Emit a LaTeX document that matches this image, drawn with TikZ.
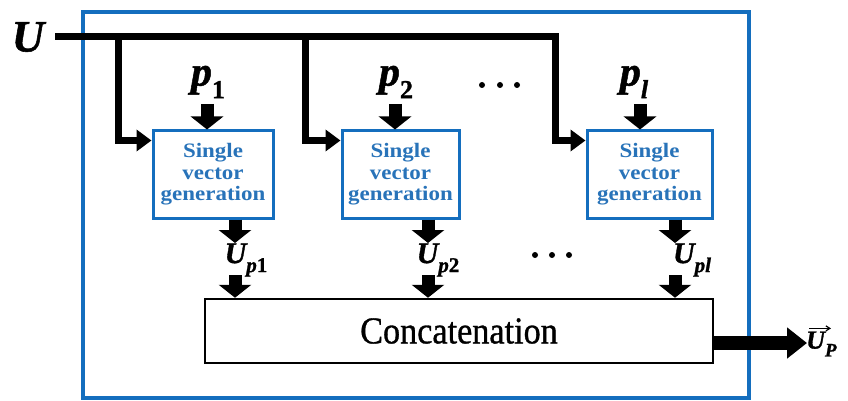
\documentclass[tikz,border=0pt]{standalone}
\usepackage{amsmath}
\usepackage{fontspec}
\usetikzlibrary{arrows.meta,calc}
\definecolor{frameblue}{RGB}{20,110,190}
\definecolor{textblue}{RGB}{40,115,185}
\newfontfamily\boxfont[FakeStretch=1.12]{Liberation Serif}
\newfontfamily\concatfont[FakeStretch=0.9,FakeBold=0.8]{Liberation Serif}
\newfontfamily\lblfont[FakeBold=1.2]{Liberation Serif}
\newcommand{\lbl}[1]{{\lblfont\bfseries\itshape #1}}
\newcommand{\lbup}[1]{{\lblfont\bfseries #1}}
\newcommand{\lblsub}[3]{\lbl{#1}\raisebox{-0.3em}{\fontsize{#3}{#3}\selectfont #2}}
\tikzset{
  bus/.style={line width=7pt, line join=miter, -{Triangle[width=21pt,length=15pt]}},
  blk/.style={line width=13pt, -{Triangle[width=32pt,length=13pt]}},
  outarrow/.style={line width=14pt, -{Triangle[width=30pt,length=20pt]}},
  genbox/.style={draw=frameblue, line width=3pt, minimum height=87pt, inner sep=0pt,
     align=center, text=textblue, font=\boxfont\bfseries\fontsize{20.5}{21.5}\selectfont},
  biglabel/.style={inner sep=0pt, font=\fontsize{45}{45}\selectfont},
  plabel/.style={inner sep=0pt, font=\fontsize{42}{42}\selectfont},
  uplabel/.style={inner sep=0pt, font=\fontsize{30}{30}\selectfont},
  dot/.style={circle, fill=black, inner sep=0pt, minimum size=6pt}
}
\begin{document}
\begin{tikzpicture}[x=1pt,y=-1pt]
\useasboundingbox (0,0) rectangle (848,401);
% outer frame
\draw[frameblue, line width=4pt] (83,12) rectangle (749,398);

% input label
\node[biglabel] (U) at (28,37) {\lbl{U}};
\coordinate (ustart) at (55,37);
\coordinate (j1) at (118,37);
\coordinate (j2) at (305,37);
\coordinate (j3) at (555,37);

% generation boxes
\node[genbox, minimum width=120pt] (b1) at (213,174.5) {Single\\vector\\generation};
\node[genbox, minimum width=117pt] (b2) at (400.5,174.5) {Single\\vector\\generation};
\node[genbox, minimum width=125pt] (b3) at (649.5,174.5) {Single\\vector\\generation};

% concatenation box
\node[draw, line width=2.5pt, minimum width=508pt, minimum height=64pt, inner sep=0pt,
      font=\concatfont\fontsize{38}{38}\selectfont] (cc) at (459,331) {Concatenation};

% bus lines
\draw[bus] (ustart) -- (j3) |- ($(b3.north west)+(0,11)$);
\draw[bus] (j1) |- ($(b1.north west)+(0,11)$);
\draw[bus] (j2) |- ($(b2.north west)+(0,11)$);

% parameter labels and arrows
\node[plabel] (p1) at (208,82) {\lblsub{p}{\lbup{1}}{26}};
\node[plabel] (p2) at (396,82) {\lblsub{p}{\lbup{2}}{26}};
\node[plabel] (pl) at (634,82) {\lblsub{p}{\lbl{l}}{26}};
\coordinate (a1) at (207,104);
\coordinate (a2) at (395,104);
\coordinate (a3) at (640,104);
\draw[blk] (a1) -- (a1 |- b1.north);
\draw[blk] (a2) -- (a2 |- b2.north);
\draw[blk] (a3) -- (a3 |- b3.north);

% dots
\node[dot] (t1) at (482,85) {};
\node[dot] (t2) at (500,85) {};
\node[dot] (t3) at (517,85) {};
\node[dot] (s1) at (535,255) {};
\node[dot] (s2) at (552,255) {};
\node[dot] (s3) at (569,255) {};

% outputs of generation boxes
\coordinate (d1) at (235,243);
\coordinate (d2) at (428,243);
\coordinate (d3) at (675,243);
\draw[blk] (b1.south -| d1) -- (d1);
\draw[blk] (b2.south -| d2) -- (d2);
\draw[blk] (b3.south -| d3) -- (d3);
\node[uplabel] (u1) at (246,260) {\lblsub{U}{\lbl{p}\lbup{1}}{21}};
\node[uplabel] (u2) at (438,260) {\lblsub{U}{\lbl{p}\lbup{2}}{21}};
\node[uplabel] (u3) at (692,260) {\lblsub{U}{\lbl{pl}}{21}};
\coordinate (e1) at (235,275);
\coordinate (e2) at (428,275);
\coordinate (e3) at (675,275);
\draw[blk] (e1) -- (e1 |- cc.north);
\draw[blk] (e2) -- (e2 |- cc.north);
\draw[blk] (e3) -- (e3 |- cc.north);

% output
\coordinate (o) at (807,343);
\draw[outarrow] ($(cc.east)+(0,12)$) -- (o);
\node[inner sep=0pt, anchor=west, font=\fontsize{26}{26}\selectfont] (up) at (806,344)
  {\lbl{U}\raisebox{-0.3em}{\fontsize{19}{19}\selectfont\lbl{P}}};
\draw[line width=1.2pt, -{Straight Barb[length=4pt,width=5pt]}]
  ($(up.north west)+(3,-3)$) -- ($(up.north west)+(25,-3)$);
\end{tikzpicture}
\end{document}
